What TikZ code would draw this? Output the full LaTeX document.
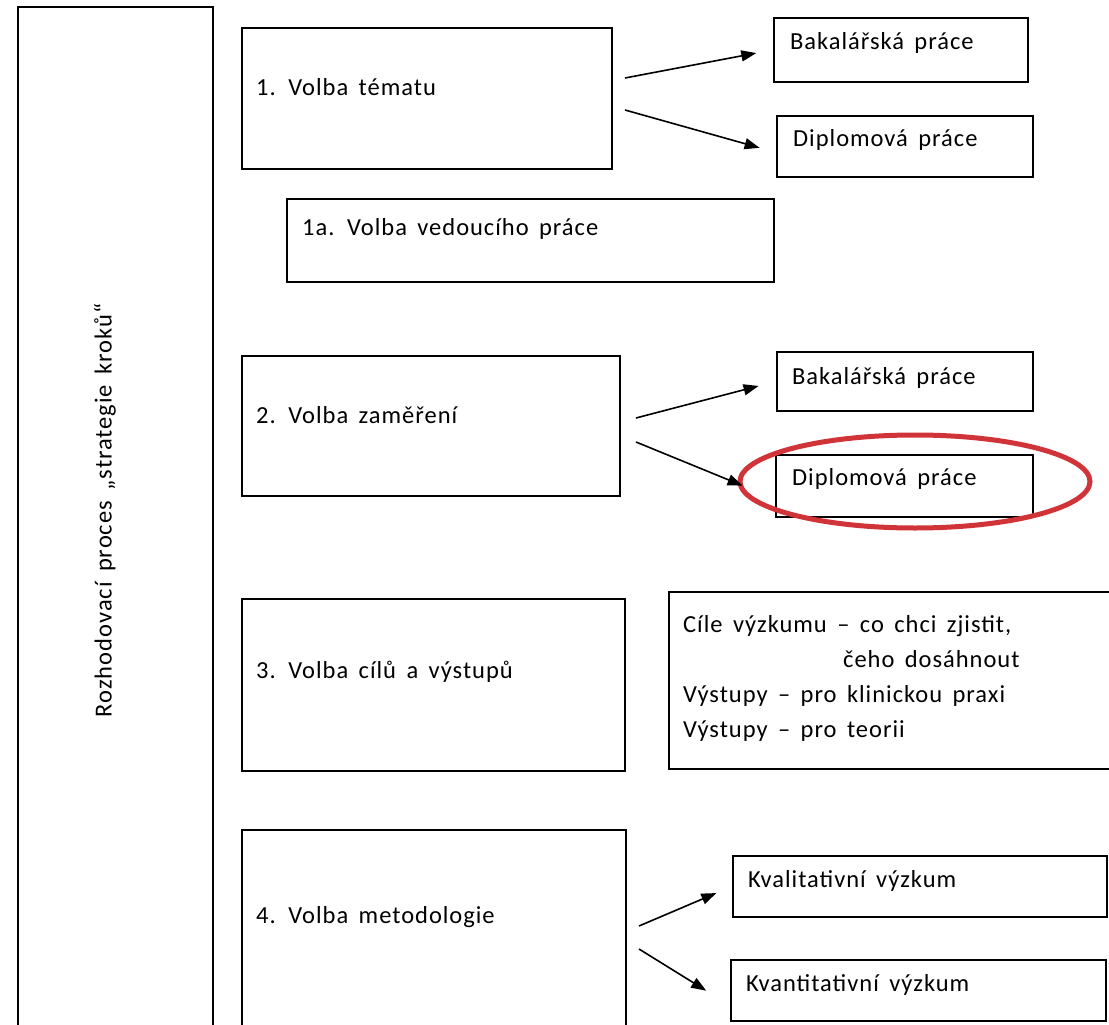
\documentclass[tikz,border=0pt]{standalone}
\usepackage{fontspec}
\setmainfont{Carlito}[LetterSpace = 4, WordSpace = 1.6]
\usetikzlibrary{arrows.meta}
\usetikzlibrary{shapes}

\definecolor{markRed}{RGB}{209,52,56}

\begin{document}
\begin{tikzpicture}[x = 1pt, y = -1pt, font = \fontsize{24.5}{35}\selectfont]
	\tikzstyle{boxStyle} = [draw, line width = 1.8pt, anchor = north west, inner sep = 0pt]
	\tikzstyle{textStyle} = [anchor = west, inner sep = 0pt, align = left]
	\tikzstyle{arrowStyle} = [line width = 1.6pt, -{Triangle[length = 15pt, width = 11pt]}]
	\clip (0,0) rectangle (1109,1025);
	\fill[white] (0,0) rectangle (1109,1025);
	% process column
	\node[boxStyle, minimum width = 195pt, minimum height = 1040pt] (proc) at (17,6) {};
	\node[rotate = 90, inner sep = 0pt] (procText) at (105,510) {Rozhodovací proces „strategie kroků“};
	% steps
	\node[boxStyle, minimum width = 370pt, minimum height = 141pt] (v1) at (241,27) {};
	\node[boxStyle, minimum width = 487pt, minimum height = 83pt] (v1a) at (286,198) {};
	\node[boxStyle, minimum width = 378pt, minimum height = 140pt] (v2) at (241,355) {};
	\node[boxStyle, minimum width = 383pt, minimum height = 172pt] (v3) at (241,598) {};
	\node[boxStyle, minimum width = 384pt, minimum height = 220pt] (v4) at (241,829) {};
	\node[textStyle] (v1Text) at (256,87) {1. Volba tématu};
	\node[textStyle] (v1aText) at (302,229) {1a. Volba vedoucího práce};
	\node[textStyle] (v2Text) at (256,415) {2. Volba zaměření};
	\node[textStyle] (v3Text) at (256,672) {3. Volba cílů a výstupů};
	\node[textStyle] (v4Text) at (256,917) {4. Volba metodologie};
	% options
	\node[boxStyle, minimum width = 254pt, minimum height = 64pt] (bak1) at (773,17) {};
	\node[boxStyle, minimum width = 256pt, minimum height = 61pt] (dip1) at (776,115) {};
	\node[boxStyle, minimum width = 256pt, minimum height = 59pt] (bak2) at (776,351) {};
	\node[boxStyle, minimum width = 257pt, minimum height = 62pt] (dip2) at (775,454) {};
	\node[boxStyle, minimum width = 460pt, minimum height = 177pt] (goals) at (668,591) {};
	\node[boxStyle, minimum width = 374pt, minimum height = 61pt] (kval) at (732,855) {};
	\node[boxStyle, minimum width = 375pt, minimum height = 61pt] (kvant) at (730,959) {};
	\node[textStyle] (bak1Text) at (790,43) {Bakalářská práce};
	\node[textStyle] (dip1Text) at (793,140) {Diplomová práce};
	\node[textStyle] (bak2Text) at (792,378) {Bakalářská práce};
	\node[textStyle] (dip2Text) at (792,479) {Diplomová práce};
	\node[textStyle] (goalsText) at (683,678) {Cíle výzkumu – co chci zjistit,\\\hspace*{160pt}čeho dosáhnout\\Výstupy – pro klinickou praxi\\Výstupy – pro teorii};
	\node[textStyle] (kvalText) at (748,881) {Kvalitativní výzkum};
	\node[textStyle] (kvantText) at (746,985) {Kvantitativní výzkum};
	% highlight
	\node[ellipse, draw = markRed, line width = 5pt, minimum width = 350pt, minimum height = 93pt, inner sep = 0pt] (mark) at (915,481.5) {};
	% arrows
	\coordinate (a1) at (625,78);
	\coordinate (a2) at (625,110);
	\coordinate (a3) at (636,418);
	\coordinate (a4) at (636,442);
	\coordinate (a5) at (639,926);
	\coordinate (a6) at (639,949);
	\draw[arrowStyle, shorten > = 17pt] (a1) -- (bak1.west);
	\draw[arrowStyle, shorten > = 17pt] (a2) -- ([yshift = -6pt]dip1.west);
	\draw[arrowStyle, shorten > = 18pt] (a3) -- (bak2.west);
	\draw[arrowStyle, shorten > = 35pt] (a4) -- ([yshift = -13pt]dip2.west);
	\draw[arrowStyle, shorten > = 17pt] (a5) -- (kval.west);
	\draw[arrowStyle, shorten > = 28pt] (a6) -- ([yshift = -15pt]kvant.west);
\end{tikzpicture}
\end{document}
